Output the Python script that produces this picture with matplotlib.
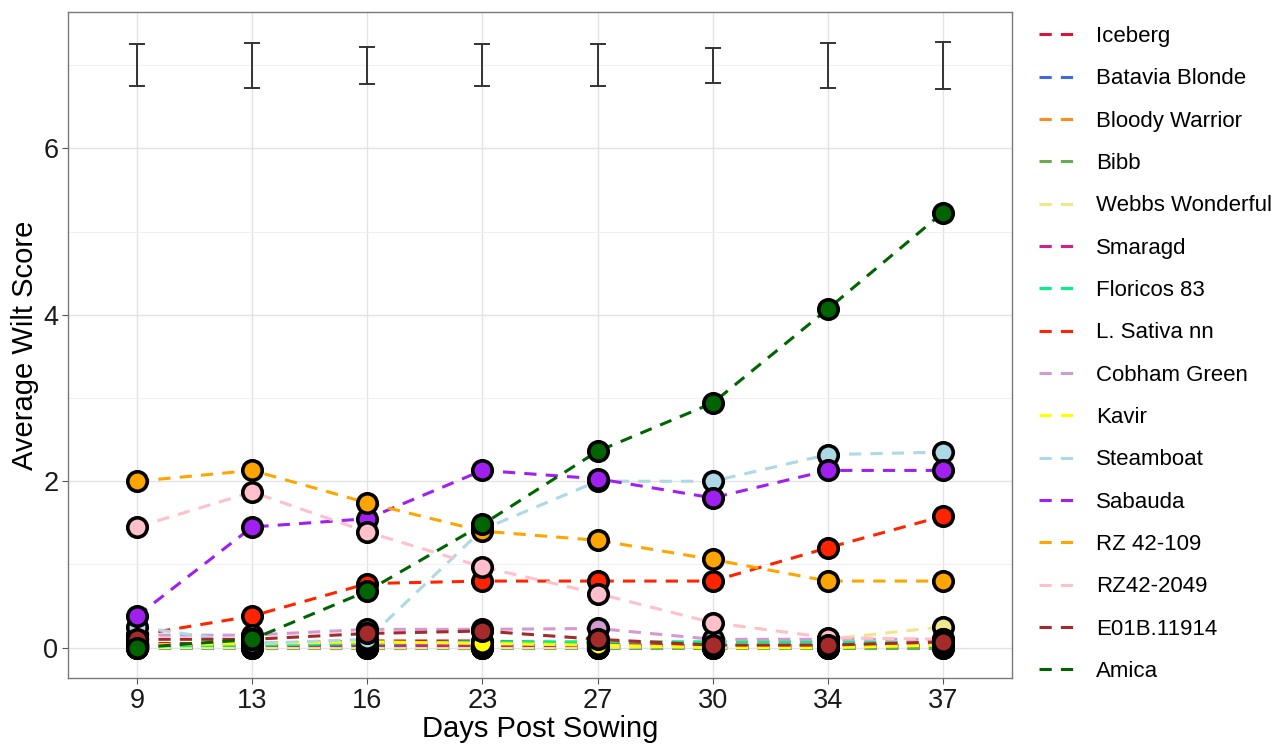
import matplotlib
matplotlib.use("Agg")
import matplotlib.pyplot as plt
from matplotlib.lines import Line2D
import numpy as np

plt.rcParams['font.family'] = ['Liberation Sans', 'DejaVu Sans']

# Data
days = ["9", "13", "16", "23", "27", "30", "34", "37"]

varieties = ["Iceberg", "Batavia Blonde", "Bloody Warrior", "Bibb", "Webbs Wonderful",
             "Smaragd", "Floricos 83", "L. Sativa nn", "Cobham Green", "Kavir",
             "Steamboat", "Sabauda", "RZ 42-109", "RZ42-2049", "E01B.11914", "Amica"]

colours = ["#dc143c", "#4169e1", "#ff8c1a", "#6aaa50", "#f0e68c",
           "#d0208f", "#00f28a", "#ff2400", "#d29ad2", "#ffff00",
           "#add8e6", "#a020f0", "#ffa500", "#ffc0cb", "#a52a2a", "#006400"]

iceberg = [0.05, 0.05, 0.08, 0.08, 0.05, 0.03, 0.03, 0.05]
batavia = [0.0, 0.0, 0.0, 0.0, 0.0, 0.0, 0.0, 0.0]
bloody = [0.03, 0.03, 0.03, 0.03, 0.03, 0.03, 0.03, 0.03]
bibb = [0.0, 0.0, 0.0, 0.0, 0.0, 0.0, 0.0, 0.0]
webbs = [0.0, 0.0, 0.0, 0.0, 0.0, 0.02, 0.1, 0.25]
smaragd = [0.03, 0.03, 0.03, 0.03, 0.03, 0.03, 0.03, 0.03]
floricos = [0.02, 0.03, 0.05, 0.07, 0.07, 0.07, 0.07, 0.05]
sativa = [0.15, 0.38, 0.77, 0.8, 0.8, 0.8, 1.2, 1.58]
cobham = [0.15, 0.15, 0.22, 0.22, 0.23, 0.1, 0.1, 0.1]
kavir = [0.03, 0.05, 0.07, 0.05, 0.03, 0.0, 0.0, 0.03]
steamboat = [0.25, 0.05, 0.1, 1.42, 2.0, 2.0, 2.32, 2.35]
sabauda = [0.38, 1.45, 1.55, 2.13, 2.03, 1.8, 2.13, 2.13]
rz42_109 = [2.0, 2.13, 1.74, 1.4, 1.29, 1.06, 0.8, 0.8]
rz42_2049 = [1.45, 1.87, 1.39, 0.97, 0.65, 0.3, 0.12, 0.1]
e01b = [0.1, 0.1, 0.17, 0.2, 0.1, 0.03, 0.03, 0.07]
amica = [0.0, 0.1, 0.68, 1.48, 2.36, 2.94, 4.07, 5.23]

series = [iceberg, batavia, bloody, bibb, webbs, smaragd, floricos, sativa,
          cobham, kavir, steamboat, sabauda, rz42_109, rz42_2049, e01b, amica]

# error bar at the top of the panel
err_centre = [7.0] * 8
err_half = [0.25, 0.27, 0.22, 0.25, 0.25, 0.21, 0.27, 0.28]

fig = plt.figure(figsize=(12.78, 7.47), dpi=100)
ax = fig.add_axes([68 / 1278, 1 - 678 / 747, (1012 - 68) / 1278, (678 - 12) / 747])

x = np.arange(1, len(days) + 1)

for vals, col in zip(series, colours):
    ax.plot(x, vals, color=col, lw=2.2, dashes=(4, 3), zorder=3)
for vals, col in zip(series, colours):
    ax.plot(x, vals, ls="none", marker="o", ms=14, mfc=col, mec="black",
            mew=2.6, zorder=4)

ax.errorbar(x, err_centre, yerr=err_half, fmt="none", ecolor="#333333",
            elinewidth=1.4, capsize=6, capthick=1.4, zorder=3)

ax.set_xlim(0.4, 8.6)
ax.set_ylim(-0.365, 7.64)
ax.set_xticks(x)
ax.set_xticklabels(days)
ax.set_yticks([0, 2, 4, 6])
ax.set_yticks([1, 3, 5, 7], minor=True)
ax.grid(which="major", color="#e3e3e3", lw=1.0, zorder=0)
ax.grid(which="minor", axis="y", color="#f0f0f0", lw=0.8, zorder=0)
ax.set_axisbelow(True)
ax.tick_params(axis="both", which="major", labelsize=19.5, length=4, color="#555555",
               labelcolor="#1a1a1a", pad=3)
ax.tick_params(axis="y", which="minor", length=0)
for sp in ax.spines.values():
    sp.set_color("#7a7a7a")
    sp.set_linewidth(1.0)

ax.set_xlabel("Days Post Sowing", fontsize=21, labelpad=1)
ax.set_ylabel("Average Wilt Score", fontsize=21, labelpad=3)

handles = [Line2D([0], [0], color=c, lw=2.2, dashes=(4, 3)) for c in colours]
fig.legend(handles, varieties, loc="upper left", bbox_to_anchor=(0.797, 0.992),
           frameon=False, fontsize=16, handlelength=1.6, handletextpad=1.0,
           labelspacing=0.96)

fig.savefig("out.png", dpi=100)
